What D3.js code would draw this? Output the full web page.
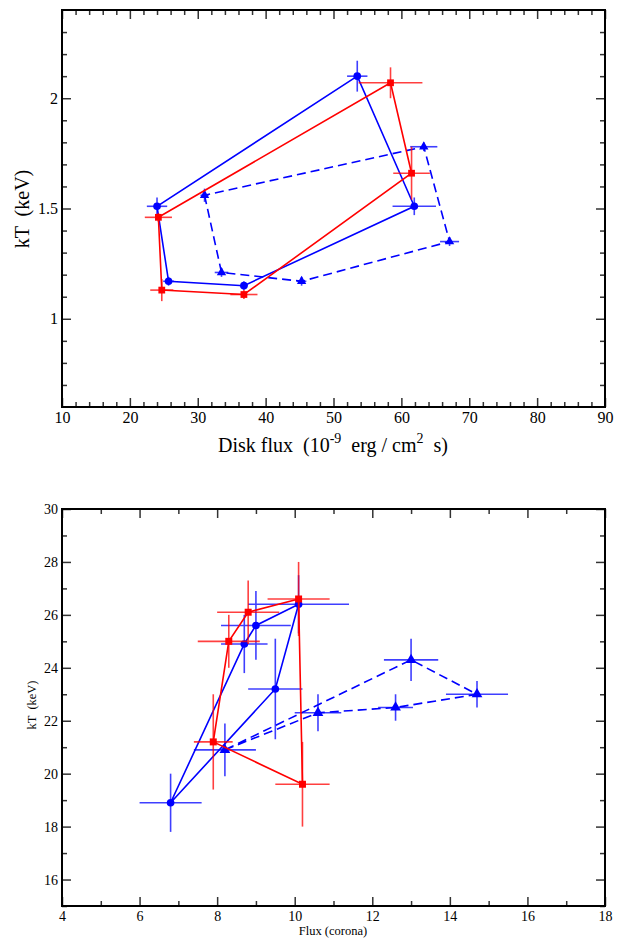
<!DOCTYPE html>
<html>
<head>
<meta charset="utf-8">
<script src="https://cdn.jsdelivr.net/npm/d3@7"></script>
<style>
  body { margin: 0; background: #fff; }
  svg, svg text { font-family: "Liberation Serif", "Times New Roman", Times, "DejaVu Serif", serif; }
  text { white-space: pre; }
</style>
</head>
<body>
<script>
// rows are [x, y, xErr, yErr], in the order the loop is drawn

// top panel : disk flux vs kT
var diskBlue   = [[24.0,1.51,1.5,0.04],[25.7,1.17,0.8,0.02],[36.8,1.15,0.6,0.02],[61.9,1.51,3.2,0.04],[53.5,2.10,1.5,0.07]];
var diskRed    = [[24.2,1.46,2.0,0.02],[24.7,1.13,1.7,0.05],[36.8,1.11,2.0,0.02],[61.5,1.66,2.7,0.12],[58.4,2.07,4.7,0.07]];
var diskDashed = [[31.0,1.56,0.6,0.03],[33.5,1.21,1.0,0.02],[45.3,1.17,0.7,0.02],[67.1,1.35,1.4,0.02],[63.3,1.78,2.0,0.02]];

// bottom panel : corona flux vs kT
var coronaBlue   = [[6.8,18.9,0.8,1.1],[8.7,24.9,0.6,1.1],[9.0,25.6,0.9,1.3],[10.1,26.4,1.3,1.1],[9.5,23.2,0.7,1.9]];
var coronaRed    = [[7.9,21.2,0.5,1.8],[8.3,25.0,0.8,1.0],[8.8,26.1,0.8,1.2],[10.1,26.6,0.8,1.4],[10.2,19.6,0.7,1.6]];
var coronaDashed = [[8.2,20.9,0.8,1.0],[10.6,22.3,0.6,0.7],[12.6,22.5,0.45,0.5],[14.7,23.0,0.8,0.5],[13.0,24.3,0.7,0.8]];

// axis ticks
var diskXMajor = [10,20,30,40,50,60,70,80,90];
var diskXMinor = d3.range(12, 90, 2).filter(function(v){ return v % 10 != 0; });
var diskYMajor = [1, 1.5, 2];
var diskYMinor = [0.7,0.8,0.9,1.1,1.2,1.3,1.4,1.6,1.7,1.8,1.9,2.1,2.2,2.3];

var coronaXMajor = [4,6,8,10,12,14,16,18];
var coronaXMinor = [5,7,9,11,13,15,17];
var coronaYMajor = [16,18,20,22,24,26,28,30];
var coronaYMinor = [15,17,19,21,23,25,27,29];

var blue = "#0000ff", red = "#ff0000";
var serif = "'Liberation Serif', 'Times New Roman', Times, 'DejaVu Serif', serif";

var svg = d3.select("body").append("svg")
  .attr("width", 627)
  .attr("height", 940)
  .attr("font-family", serif);

var w = 543, h = 397;

function addAxes(g, x, y, xMajor, xMinor, yMajor, yMinor, fontSize) {
  var majorLen = 9, minorLen = 5;
  var axes = [
    [d3.axisBottom(x).tickValues(xMajor).tickSize(-majorLen).tickPadding(5), "translate(0," + h + ")", true],
    [d3.axisBottom(x).tickValues(xMinor).tickSize(-minorLen).tickFormat(""), "translate(0," + h + ")", false],
    [d3.axisTop(x).tickValues(xMajor).tickSize(-majorLen).tickFormat(""), null, false],
    [d3.axisTop(x).tickValues(xMinor).tickSize(-minorLen).tickFormat(""), null, false],
    [d3.axisLeft(y).tickValues(yMajor).tickSize(-majorLen).tickPadding(4), null, true],
    [d3.axisLeft(y).tickValues(yMinor).tickSize(-minorLen).tickFormat(""), null, false],
    [d3.axisRight(y).tickValues(yMajor).tickSize(-majorLen).tickFormat(""), "translate(" + w + ",0)", false],
    [d3.axisRight(y).tickValues(yMinor).tickSize(-minorLen).tickFormat(""), "translate(" + w + ",0)", false]
  ];
  axes.forEach(function(a) {
    if (a[2]) a[0].tickFormat(function(d){ return String(d); });
    var ax = g.append("g").call(a[0]);
    if (a[1]) ax.attr("transform", a[1]);
    ax.attr("font-family", serif).attr("font-size", fontSize);
    ax.select(".domain").remove();
    ax.selectAll("line").attr("stroke", "#333").attr("stroke-width", 1.5);
    ax.selectAll("text").attr("fill", "#000");
  });
  g.append("rect")
    .attr("width", w).attr("height", h)
    .attr("fill", "none").attr("stroke", "#000").attr("stroke-width", 2);
}

function addSeries(g, x, y, data, color, shape, size, dashed) {
  var eb = g.append("g").attr("stroke", color).attr("stroke-width", 1.6).attr("opacity", 0.75);
  data.forEach(function(d) {
    eb.append("line").attr("x1", x(d[0] - d[2])).attr("x2", x(d[0] + d[2]))
      .attr("y1", y(d[1])).attr("y2", y(d[1]));
    eb.append("line").attr("x1", x(d[0])).attr("x2", x(d[0]))
      .attr("y1", y(d[1] - d[3])).attr("y2", y(d[1] + d[3]));
  });
  var line = d3.line()
    .x(function(d){ return x(d[0]); })
    .y(function(d){ return y(d[1]); })
    .curve(d3.curveLinearClosed);
  g.append("path")
    .attr("d", line(data))
    .attr("fill", "none")
    .attr("stroke", color)
    .attr("stroke-width", 1.6)
    .attr("stroke-dasharray", dashed ? "9,5" : null);
  var sym = d3.symbol().type(shape).size(size);
  g.selectAll(null).data(data).enter().append("path")
    .attr("d", sym)
    .attr("transform", function(d){ return "translate(" + x(d[0]) + "," + y(d[1]) + ")"; })
    .attr("fill", color);
}

// ---- top panel ----
var g1 = svg.append("g").attr("transform", "translate(62,10)");
var x1 = d3.scaleLinear().domain([10, 90]).range([0, w]);
var y1 = d3.scaleLinear().domain([0.6, 2.4]).range([h, 0]);

addSeries(g1, x1, y1, diskDashed, blue, d3.symbolTriangle, 38, true);
addSeries(g1, x1, y1, diskBlue, blue, d3.symbolCircle, 46, false);
addSeries(g1, x1, y1, diskRed, red, d3.symbolSquare, 46, false);
addAxes(g1, x1, y1, diskXMajor, diskXMinor, diskYMajor, diskYMinor, 16);

var xt = svg.append("text")
  .attr("x", 333).attr("y", 452)
  .attr("text-anchor", "middle")
  .attr("font-size", 20);
xt.append("tspan").text("Disk flux  (10");
xt.append("tspan").attr("dy", -9).attr("font-size", 14).text("-9");
xt.append("tspan").attr("dy", 9).text("  erg / cm");
xt.append("tspan").attr("dy", -9).attr("font-size", 14).text("2");
xt.append("tspan").attr("dy", 9).text("  s)");

svg.append("text")
  .attr("transform", "translate(29,209) rotate(-90)")
  .attr("text-anchor", "middle")
  .attr("font-size", 20)
  .text("kT  (keV)");

// ---- bottom panel ----
var g2 = svg.append("g").attr("transform", "translate(62,509)");
var x2 = d3.scaleLinear().domain([4, 18]).range([0, w]);
var y2 = d3.scaleLinear().domain([15, 30]).range([h, 0]);

addSeries(g2, x2, y2, coronaDashed, blue, d3.symbolTriangle, 50, true);
addSeries(g2, x2, y2, coronaBlue, blue, d3.symbolCircle, 46, false);
addSeries(g2, x2, y2, coronaRed, red, d3.symbolSquare, 49, false);
addAxes(g2, x2, y2, coronaXMajor, coronaXMinor, coronaYMajor, coronaYMinor, 14);

svg.append("text")
  .attr("x", 333).attr("y", 935)
  .attr("text-anchor", "middle")
  .attr("font-size", 12.5)
  .text("Flux (corona)");

svg.append("text")
  .attr("transform", "translate(36,705) rotate(-90)")
  .attr("text-anchor", "middle")
  .attr("font-size", 12.5)
  .text("kT  (keV)");
</script>
</body>
</html>
